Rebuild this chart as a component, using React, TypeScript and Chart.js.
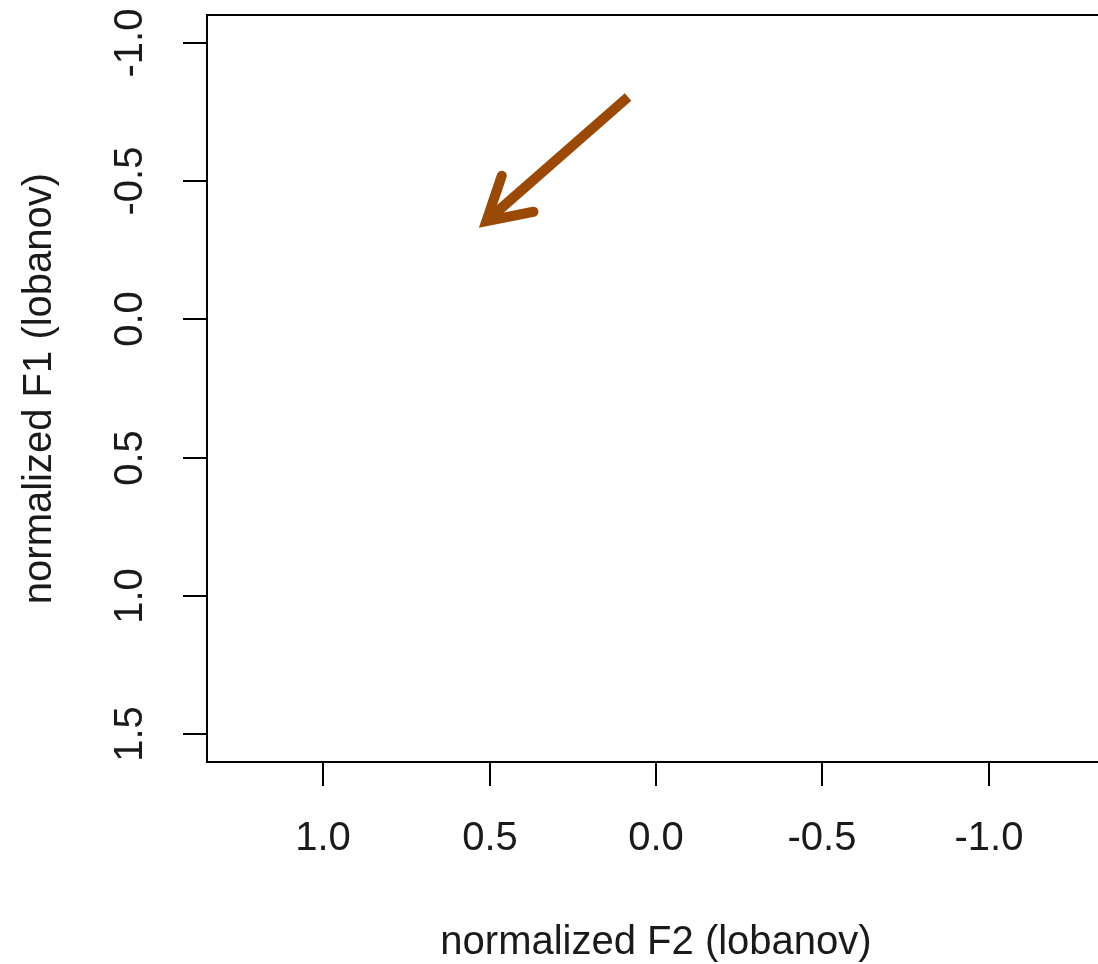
import React, { useEffect, useRef } from "react";
import { Chart, registerables } from "chart.js";

Chart.register(...registerables);

// Data (normalized F2 on x, normalized F1 on y; both axes reversed)
const arrowF2 = [0.084, 0.51];
const arrowF1 = [-0.804, -0.355];
const xTicks = [1.0, 0.5, 0.0, -0.5, -1.0];
const yTicks = [-1.0, -0.5, 0.0, 0.5, 1.0, 1.5];
const xTitle = "normalized F2 (lobanov)";
const yTitle = "normalized F1 (lobanov)";

const FONT = '40px "Liberation Sans", Arial, sans-serif';
const ARROW_COLOR = "#9a4a06";

const axesPlugin = {
  id: "rAxes",
  afterDraw(chart: any) {
    const { ctx, chartArea } = chart;
    const xs = chart.scales.x;
    const ys = chart.scales.y;
    ctx.save();
    ctx.strokeStyle = "#000";
    ctx.lineWidth = 2;
    // box (top, left, bottom)
    ctx.beginPath();
    ctx.moveTo(chart.width + 5, chartArea.top);
    ctx.lineTo(chartArea.left, chartArea.top);
    ctx.lineTo(chartArea.left, chartArea.bottom);
    ctx.lineTo(chart.width + 5, chartArea.bottom);
    ctx.stroke();
    // x ticks
    ctx.fillStyle = "#1a1a1a";
    ctx.font = FONT;
    ctx.textAlign = "center";
    ctx.textBaseline = "middle";
    xTicks.forEach((v) => {
      const px = Math.round(xs.getPixelForValue(v));
      ctx.beginPath();
      ctx.moveTo(px, chartArea.bottom);
      ctx.lineTo(px, chartArea.bottom + 24);
      ctx.stroke();
      ctx.fillText(v.toFixed(1), px, chartArea.bottom + 77);
    });
    // y ticks
    yTicks.forEach((v) => {
      const py = Math.round(ys.getPixelForValue(v));
      ctx.beginPath();
      ctx.moveTo(chartArea.left, py);
      ctx.lineTo(chartArea.left - 24, py);
      ctx.stroke();
      ctx.save();
      ctx.translate(chartArea.left - 76, py);
      ctx.rotate(-Math.PI / 2);
      ctx.fillText(v.toFixed(1), 0, 0);
      ctx.restore();
    });
    // titles
    ctx.fillText(xTitle, (chartArea.left + xs.getPixelForValue(-1.35)) / 2, chartArea.bottom + 181);
    ctx.save();
    ctx.translate(chartArea.left - 167, (chartArea.top + chartArea.bottom) / 2);
    ctx.rotate(-Math.PI / 2);
    ctx.fillText(yTitle, 0, 0);
    ctx.restore();
    ctx.restore();
  },
  afterDatasetsDraw(chart: any) {
    const { ctx } = chart;
    const xs = chart.scales.x;
    const ys = chart.scales.y;
    const x0 = xs.getPixelForValue(arrowF2[0]);
    const y0 = ys.getPixelForValue(arrowF1[0]);
    const x1 = xs.getPixelForValue(arrowF2[1]);
    const y1 = ys.getPixelForValue(arrowF1[1]);
    const ang = Math.atan2(y1 - y0, x1 - x0);
    const len = 48;
    const a = Math.PI / 6;
    ctx.save();
    ctx.strokeStyle = ARROW_COLOR;
    ctx.lineWidth = 10;
    ctx.lineCap = "round";
    ctx.lineJoin = "miter";
    ctx.miterLimit = 10;
    ctx.beginPath();
    ctx.moveTo(x1 - len * Math.cos(ang - a), y1 - len * Math.sin(ang - a));
    ctx.lineTo(x1, y1);
    ctx.lineTo(x1 - len * Math.cos(ang + a), y1 - len * Math.sin(ang + a));
    ctx.stroke();
    ctx.restore();
  },
};

export default function App() {
  const ref = useRef<HTMLCanvasElement>(null);
  useEffect(() => {
    if (!ref.current) return;
    const chart = new Chart(ref.current, {
      type: "scatter",
      data: {
        datasets: [
          {
            data: arrowF2.map((x, i) => ({ x, y: arrowF1[i] })),
            showLine: true,
            borderColor: ARROW_COLOR,
            borderWidth: 10,
            borderCapStyle: "butt",
            pointRadius: 0,
            fill: false,
          } as any,
        ],
      },
      options: {
        animation: false,
        responsive: false,
        events: [],
        layout: { padding: { left: 207, top: 15, right: 0, bottom: 202 } },
        plugins: { legend: { display: false }, tooltip: { enabled: false } },
        scales: {
          x: { type: "linear", reverse: true, min: -1.329, max: 1.35, display: false },
          y: { type: "linear", reverse: true, min: -1.1, max: 1.6, display: false },
        },
      },
      plugins: [axesPlugin],
    });
    return () => chart.destroy();
  }, []);
  return (
    <div style={{ position: "fixed", left: 0, top: 0, width: 1098, height: 964, background: "#fff" }}>
      <canvas ref={ref} width={1098} height={964} style={{ display: "block" }} />
    </div>
  );
}
